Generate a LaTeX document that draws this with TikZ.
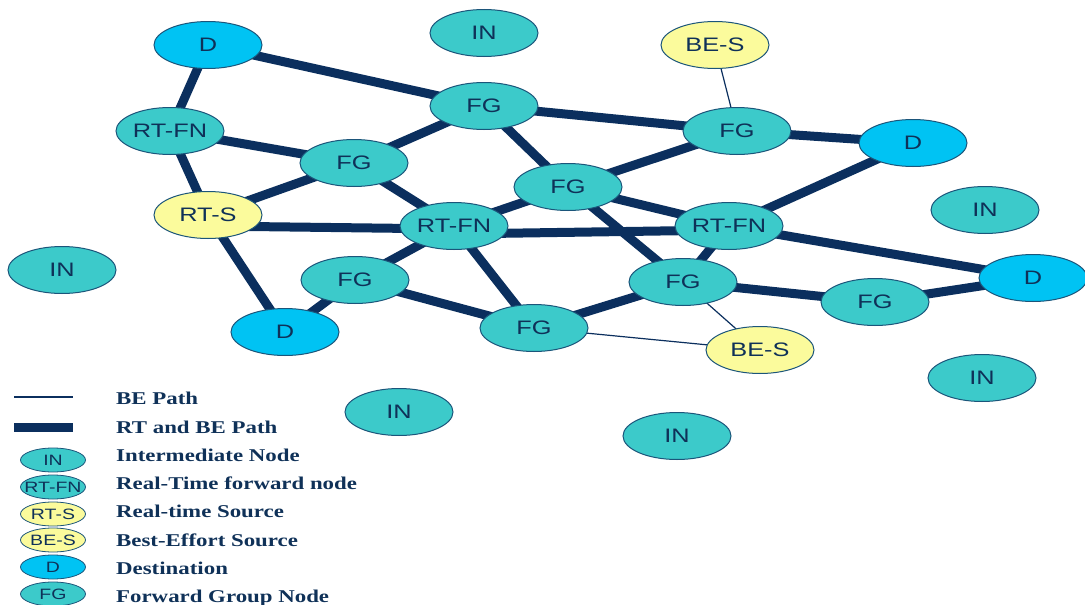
\documentclass[tikz,border=0pt]{standalone}
\usepackage{fontspec}
\usetikzlibrary{shapes.geometric}
\newfontfamily\nodefont[FakeStretch=1.3]{Liberation Sans}
\newfontfamily\legendfont[FakeStretch=1.27]{Liberation Serif}
\definecolor{edgec}{HTML}{0B2F5E}
\definecolor{bordc}{HTML}{1B557A}
\definecolor{tealf}{HTML}{3CCACA}
\definecolor{bluef}{HTML}{00C3F3}
\definecolor{yelf}{HTML}{FBFB9C}
\definecolor{txtc}{HTML}{0F3158}
\pgfdeclarelayer{background}
\pgfsetlayers{background,main}
\tikzset{
  ell/.style={ellipse, draw=bordc, line width=1pt, minimum width=108pt, minimum height=47pt,
    inner sep=0pt, text=txtc, font=\nodefont\fontsize{19.5}{19.5}\selectfont},
  tnode/.style={ell, fill=tealf},
  dnode/.style={ell, fill=bluef},
  ynode/.style={ell, fill=yelf},
  leg/.style={ellipse, draw=bordc, line width=0.8pt, minimum width=65pt, minimum height=24pt,
    inner xsep=-10pt, inner ysep=0pt, text=txtc, font=\nodefont\fontsize{15}{15}\selectfont},
  legt/.style={anchor=base west, inner sep=0pt, text=txtc, font=\legendfont\bfseries\fontsize{18}{18}\selectfont},
  thick edge/.style={draw=edgec, line width=9pt},
  thin edge/.style={draw=edgec, line width=1.2pt},
}
\begin{document}
\begin{tikzpicture}[x=1pt,y=-1pt]
\useasboundingbox (0,0) rectangle (1085,605);
% nodes
\node[dnode] (D1) at (208,45) {D};
\node[tnode] (INt) at (484,33) {IN};
\node[ynode] (BEt) at (715,45) {BE-S};
\node[tnode] (FGt) at (484,106) {FG};
\node[tnode] (RFl) at (170,131) {RT-FN};
\node[tnode] (FGl) at (354,163) {FG};
\node[tnode] (FGr) at (737,131) {FG};
\node[dnode] (Dr) at (913,143) {D};
\node[tnode] (FGc) at (568,187) {FG};
\node[ynode] (RTS) at (208,215) {RT-S};
\node[tnode] (RFc) at (454,226) {RT-FN};
\node[tnode] (RFr) at (729,226) {RT-FN};
\node[tnode] (INr) at (985,210) {IN};
\node[tnode] (INl) at (62,270) {IN};
\node[tnode] (FGm) at (355,280) {FG};
\node[tnode] (FGs) at (683,282) {FG};
\node[dnode] (Dfr) at (1033,278) {D};
\node[tnode] (FGfr) at (875,302) {FG};
\node[dnode] (Db) at (285,332) {D};
\node[tnode] (FGb) at (534,328) {FG};
\node[ynode] (BEb) at (760,350) {BE-S};
\node[tnode] (INr2) at (982,378) {IN};
\node[tnode] (INb) at (399,412) {IN};
\node[tnode] (INb2) at (677,436) {IN};
% edges
\begin{pgfonlayer}{background}
\draw[thick edge] (D1.center) -- (RFl.center);
\draw[thick edge] (D1.center) -- (FGt.center);
\draw[thick edge] (RFl.center) -- (FGl.center);
\draw[thick edge] (RFl.center) -- (RTS.center);
\draw[thick edge] (FGl.center) -- (FGt.center);
\draw[thick edge] (FGl.center) -- (RTS.center);
\draw[thick edge] (FGl.center) -- (RFc.center);
\draw[thick edge] ([yshift=-11pt]RTS.center) -- ([yshift=-3pt]RFc.center);
\draw[thick edge] (RTS.center) -- (Db.center);
\draw[thick edge] (FGt.center) -- (FGr.center);
\draw[thick edge] (FGt.center) -- (FGc.center);
\draw[thick edge] (FGr.center) -- (Dr.center);
\draw[thick edge] (FGr.center) -- (FGc.center);
\draw[thick edge] (FGc.center) -- (RFc.center);
\draw[thick edge] (FGc.center) -- (RFr.center);
\draw[thick edge] (FGc.center) -- (FGs.center);
\draw[thick edge] (Dr.center) -- (RFr.center);
\draw[thick edge] ([yshift=-8pt]RFc.center) -- ([yshift=-4pt]RFr.center);
\draw[thick edge] (RFc.center) -- (FGm.center);
\draw[thick edge] (RFc.center) -- (FGb.center);
\draw[thick edge] (RFr.center) -- (Dfr.center);
\draw[thick edge] (RFr.center) -- (FGs.center);
\draw[thick edge] (FGm.center) -- (Db.center);
\draw[thick edge] (FGm.center) -- (FGb.center);
\draw[thick edge] (FGb.center) -- (FGs.center);
\draw[thick edge] (FGs.center) -- (FGfr.center);
\draw[thick edge] (FGfr.center) -- (Dfr.center);
\draw[thin edge] (BEt.center) -- (FGr.center);
\draw[thin edge] (BEb.center) -- (FGs.center);
\draw[thin edge] (BEb.center) -- (FGb.center);
\end{pgfonlayer}
% legend
\coordinate (l1a) at (14,397);
\coordinate (l1b) at (73,397);
\coordinate (l2a) at (14,427.5);
\coordinate (l2b) at (73,427.5);
\draw[thin edge] (l1a) -- (l1b);
\draw[draw=edgec, line width=9pt] (l2a) -- (l2b);
\node[legt] (t1) at (116,404) {BE Path};
\node[legt] (t2) at (116,433) {RT and BE Path};
\node[leg, fill=tealf] (e3) at (53,460) {IN};
\node[legt] (t3) at (116,461) {Intermediate Node};
\node[leg, fill=tealf] (e4) at (53,487) {RT-FN};
\node[legt] (t4) at (116,489) {Real-Time forward node};
\node[leg, fill=yelf] (e5) at (53,514) {RT-S};
\node[legt] (t5) at (116,517) {Real-time Source};
\node[leg, fill=yelf] (e6) at (53,540) {BE-S};
\node[legt] (t6) at (116,546) {Best-Effort Source};
\node[leg, fill=bluef] (e7) at (53,567) {D};
\node[legt] (t7) at (116,574) {Destination};
\node[leg, fill=tealf] (e8) at (53,594) {FG};
\node[legt] (t8) at (116,602) {Forward Group Node};
\end{tikzpicture}
\end{document}
